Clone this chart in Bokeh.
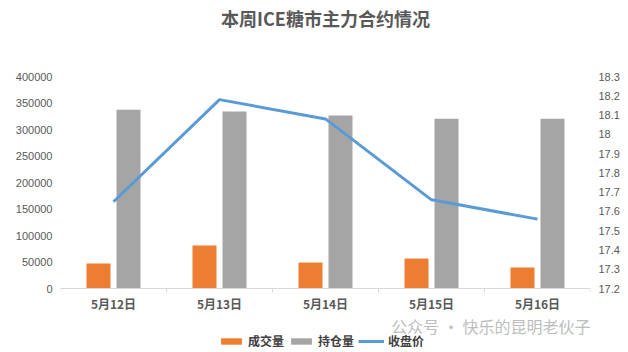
from bokeh.plotting import figure
from bokeh.models import (Range1d, LinearAxis, FixedTicker, NumeralTickFormatter,
                          Legend, LegendItem, Title, ColumnDataSource)
from bokeh.core.properties import value
from bokeh.embed import file_html
from bokeh.resources import INLINE

# ---- data ----
categories = ["5月12日", "5月13日", "5月14日", "5月15日", "5月16日"]
volume = [47000, 81000, 49000, 56500, 39500]          # 成交量
open_interest = [337500, 334000, 326500, 320500, 320500]  # 持仓量
close_price = [17.65, 18.18, 18.08, 17.66, 17.56]     # 收盘价

title_text = "本周ICE糖市主力合约情况"
watermark = "公众号 · 快乐的昆明老伙子"

ORANGE = "#ed7d31"
GRAY = "#a5a5a5"
BLUE = "#5b9bd5"
TXT = "#595959"

# layout constants (pixels)
PLOT_H = 212          # height of value area
BOTTOM_PX = 64        # room below the zero line (axis labels + legend)
Y_MAX = 400000
PX = Y_MAX / PLOT_H   # left-axis units per pixel
P_MIN, P_MAX = 17.2, 18.3
PPX = (P_MAX - P_MIN) / PLOT_H

n = len(categories)
centers = [i + 0.5 for i in range(n)]
src = ColumnDataSource(dict(
    xo=[c - 0.1415 for c in centers],
    xg=[c + 0.1415 for c in centers],
    xc=centers,
    vol=volume,
    oi=open_interest,
    px=close_price,
    lab=categories,
))

p = figure(frame_width=530, frame_height=PLOT_H + BOTTOM_PX, output_backend="svg",
           toolbar_location=None, x_axis_location=None,
           x_range=Range1d(0, n), y_range=Range1d(-BOTTOM_PX * PX, Y_MAX),
           min_border_left=60, min_border_right=38, min_border_top=76,
           min_border_bottom=0)
p.outline_line_color = None
p.grid.visible = False
p.background_fill_color = "white"
p.border_fill_color = "white"

p.title.text = title_text
p.title.align = "center"
p.title.offset = -11
p.title.text_font = "Noto Sans CJK SC"
p.title.text_font_style = "bold"
p.title.text_font_size = "18px"
p.title.text_color = TXT
p.title.standoff = 0

# spacer between title and plot area
p.add_layout(Title(text=" ", text_font_size="40px", standoff=0), "above")

p.extra_y_ranges = {"price": Range1d(P_MIN - BOTTOM_PX * PPX, P_MAX)}

r_vol = p.vbar(x="xo", top="vol", width=0.2264, source=src, color=ORANGE, line_color=None)
r_oi = p.vbar(x="xg", top="oi", width=0.2264, source=src, color=GRAY, line_color=None)
r_px = p.line(x="xc", y="px", source=src, y_range_name="price",
              line_color=BLUE, line_width=3)

# category axis (baseline, boundary ticks, labels)
bounds = list(range(n + 1))
p.segment(x0=[0], y0=[0], x1=[n], y1=[0], line_color="#d9d9d9", line_width=1)
p.segment(x0=bounds, y0=[0] * len(bounds), x1=bounds, y1=[-4 * PX] * len(bounds),
          line_color="#d9d9d9", line_width=1)
p.text(x="xc", y=-15 * PX, text="lab", source=src, text_align="center",
       text_baseline="middle", text_font=value("Noto Sans CJK SC"),
       text_font_style="bold", text_font_size="12px", text_color=TXT)

# watermark
p.text(x=[n], y=[-37 * PX], text=[watermark], text_align="right",
       text_baseline="middle", text_font=value("Noto Sans CJK SC"),
       text_font_size="16px", text_color="#bdbdbd")

# left axis
ya = p.yaxis[0]
ya.ticker = FixedTicker(ticks=list(range(0, Y_MAX + 1, 50000)))
ya.formatter = NumeralTickFormatter(format="0")
ya.axis_line_color = None
ya.major_tick_out = 0
ya.major_tick_in = 0
ya.minor_tick_out = 0
ya.minor_tick_in = 0
ya.major_label_text_font = "Liberation Sans"
ya.major_label_text_font_size = "11px"
ya.major_label_text_color = TXT
ya.major_label_standoff = 8

# right axis
ra = LinearAxis(y_range_name="price",
                ticker=FixedTicker(ticks=[round(P_MIN + 0.1 * i, 1) for i in range(12)]),
                formatter=NumeralTickFormatter(format="0.[0]"))
ra.axis_line_color = None
ra.major_tick_out = 0
ra.major_tick_in = 0
ra.minor_tick_out = 0
ra.minor_tick_in = 0
ra.major_label_text_font = "Liberation Sans"
ra.major_label_text_font_size = "11px"
ra.major_label_text_color = TXT
ra.major_label_standoff = 8
p.add_layout(ra, "right")

legend = Legend(items=[
    LegendItem(label="成交量", renderers=[r_vol]),
    LegendItem(label="持仓量", renderers=[r_oi]),
    LegendItem(label="收盘价", renderers=[r_px]),
], orientation="horizontal", location=(158, 3),
    label_text_font="Noto Sans CJK SC", label_text_font_style="bold",
    label_text_font_size="12px", label_text_color="#404040",
    glyph_width=26, glyph_height=8, label_height=14, label_standoff=4, spacing=4,
    padding=0, margin=0, border_line_color=None, background_fill_alpha=0)
p.add_layout(legend, "center")

open("out.html", "w").write(file_html(p, INLINE))
